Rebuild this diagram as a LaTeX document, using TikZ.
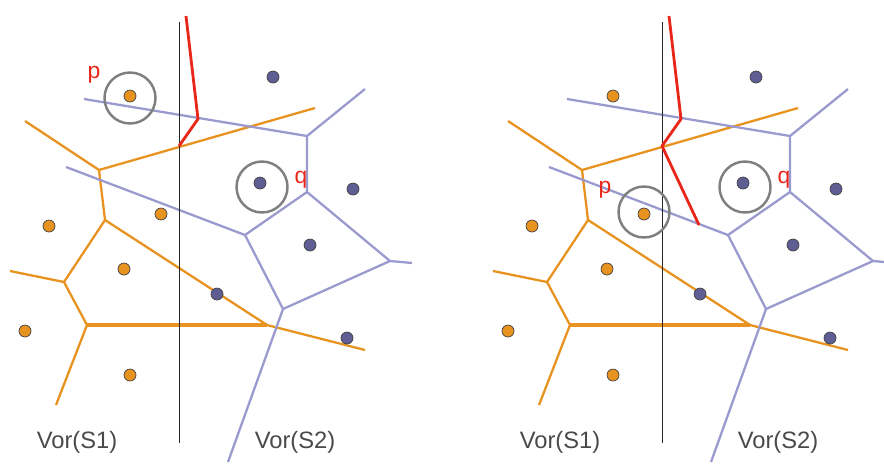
\documentclass[tikz,border=0pt]{standalone}
\usepackage{fontspec}
\setmainfont{Liberation Sans}
\usepackage{tikz}

\definecolor{sone}{HTML}{E8921F}
\definecolor{stwo}{HTML}{5E5E95}
\definecolor{vtwo}{HTML}{9A9ACF}
\definecolor{chain}{HTML}{E8261A}
\definecolor{ring}{HTML}{7F7F7F}
\definecolor{caption}{HTML}{4A4A4A}

\tikzset{
  site/.style={circle, draw=black!75, line width=0.4pt, inner sep=0pt, minimum size=0.24cm},
  siteA/.style={site, fill=sone},
  siteB/.style={site, fill=stwo},
  edgeA/.style={sone, line width=1.3pt},
  edgeB/.style={vtwo, line width=1.3pt},
  divider/.style={black!85, line width=0.5pt},
  merge/.style={chain, line width=1.6pt, line join=round},
  probe/.style={ring, line width=1.4pt},
  tag/.style={text=chain, font=\fontsize{13}{15}\selectfont, inner sep=0pt},
  vorlabel/.style={text=caption, font=\fontsize{13.5}{16}\selectfont, inner sep=0pt}
}

% both diagrams, the dividing line and the sites of one panel
\newcommand{\mergepanel}{%
  % Vor(S1)
  \coordinate (o1) at (25,121);  \coordinate (o2) at (99,170);
  \coordinate (o3) at (315,108); \coordinate (o4) at (105,220);
  \coordinate (o5) at (64,282);  \coordinate (o6) at (10,271);
  \coordinate (o7) at (87,325);  \coordinate (o8) at (56,405);
  \coordinate (o9) at (267,325); \coordinate (o10) at (365,350);
  \draw[edgeA] (o1) -- (o2) -- (o3);
  \draw[edgeA] (o2) -- (o4) -- (o5) -- (o6);
  \draw[edgeA] (o5) -- (o7) -- (o8);
  \draw[edgeA] (o4) -- (o9) -- (o10);
  \draw[edgeA, line width=2.2pt] (o7) -- (o9);
  % Vor(S2)
  \coordinate (b1) at (84,99);   \coordinate (b2) at (307,136);
  \coordinate (b3) at (365,89);  \coordinate (b4) at (307,192);
  \coordinate (b5) at (390,261); \coordinate (b6) at (412,263);
  \coordinate (b7) at (66,167);  \coordinate (b8) at (245,235);
  \coordinate (b9) at (283,309); \coordinate (b10) at (228,462);
  \draw[edgeB] (b1) -- (b2) -- (b3);
  \draw[edgeB] (b2) -- (b4) -- (b5) -- (b6);
  \draw[edgeB] (b7) -- (b8) -- (b4);
  \draw[edgeB] (b8) -- (b9) -- (b5);
  \draw[edgeB] (b9) -- (b10);
  % split line
  \coordinate (top) at (179,22);
  \coordinate (bot) at (179,443);
  \draw[divider] (top) -- (bot);
  % sites
  \node[siteA] (p)  at (130,96)  {};
  \node[siteA] (s2) at (161,214) {};
  \node[siteA] (s3) at (49,226)  {};
  \node[siteA] (s4) at (124,269) {};
  \node[siteA] (s5) at (25,331)  {};
  \node[siteA] (s6) at (130,375) {};
  \node[siteB] (t1) at (273,77)  {};
  \node[siteB] (q)  at (260,183) {};
  \node[siteB] (t3) at (353,189) {};
  \node[siteB] (t4) at (310,245) {};
  \node[siteB] (t5) at (217,294) {};
  \node[siteB] (t6) at (347,338) {};
  \node[vorlabel] (vl) at (77,442)  {Vor(S1)};
  \node[vorlabel] (vr) at (295,442) {Vor(S2)};
  % merge chain
  \coordinate (c1) at (186,16);
  \coordinate (c2) at (198,119);
  \coordinate (c3) at (179,146);
}

\begin{document}
\begin{tikzpicture}[x=0.02cm, y=-0.02cm]
\useasboundingbox (0,0) rectangle (884,464);

\begin{scope}[name prefix=L-]
  \mergepanel
  \draw[merge] (c1) -- (c2) -- (c3);
  \draw[probe] (130,98) circle[radius=0.51cm];
  \draw[probe] (262,187) circle[radius=0.51cm];
  \node[tag] (lp) at (94,75)  {p};
  \node[tag] (lq) at (301,180) {q};
\end{scope}

\begin{scope}[shift={(483,0)}, name prefix=R-]
  \mergepanel
  \coordinate (c4) at (216,225);
  \draw[merge] (c1) -- (c2) -- (c3) -- (c4);
  \draw[probe] (161,212) circle[radius=0.51cm];
  \draw[probe] (262,187) circle[radius=0.51cm];
  \node[tag] (rp) at (122,190) {p};
  \node[tag] (rq) at (301,180) {q};
\end{scope}
\end{tikzpicture}
\end{document}
